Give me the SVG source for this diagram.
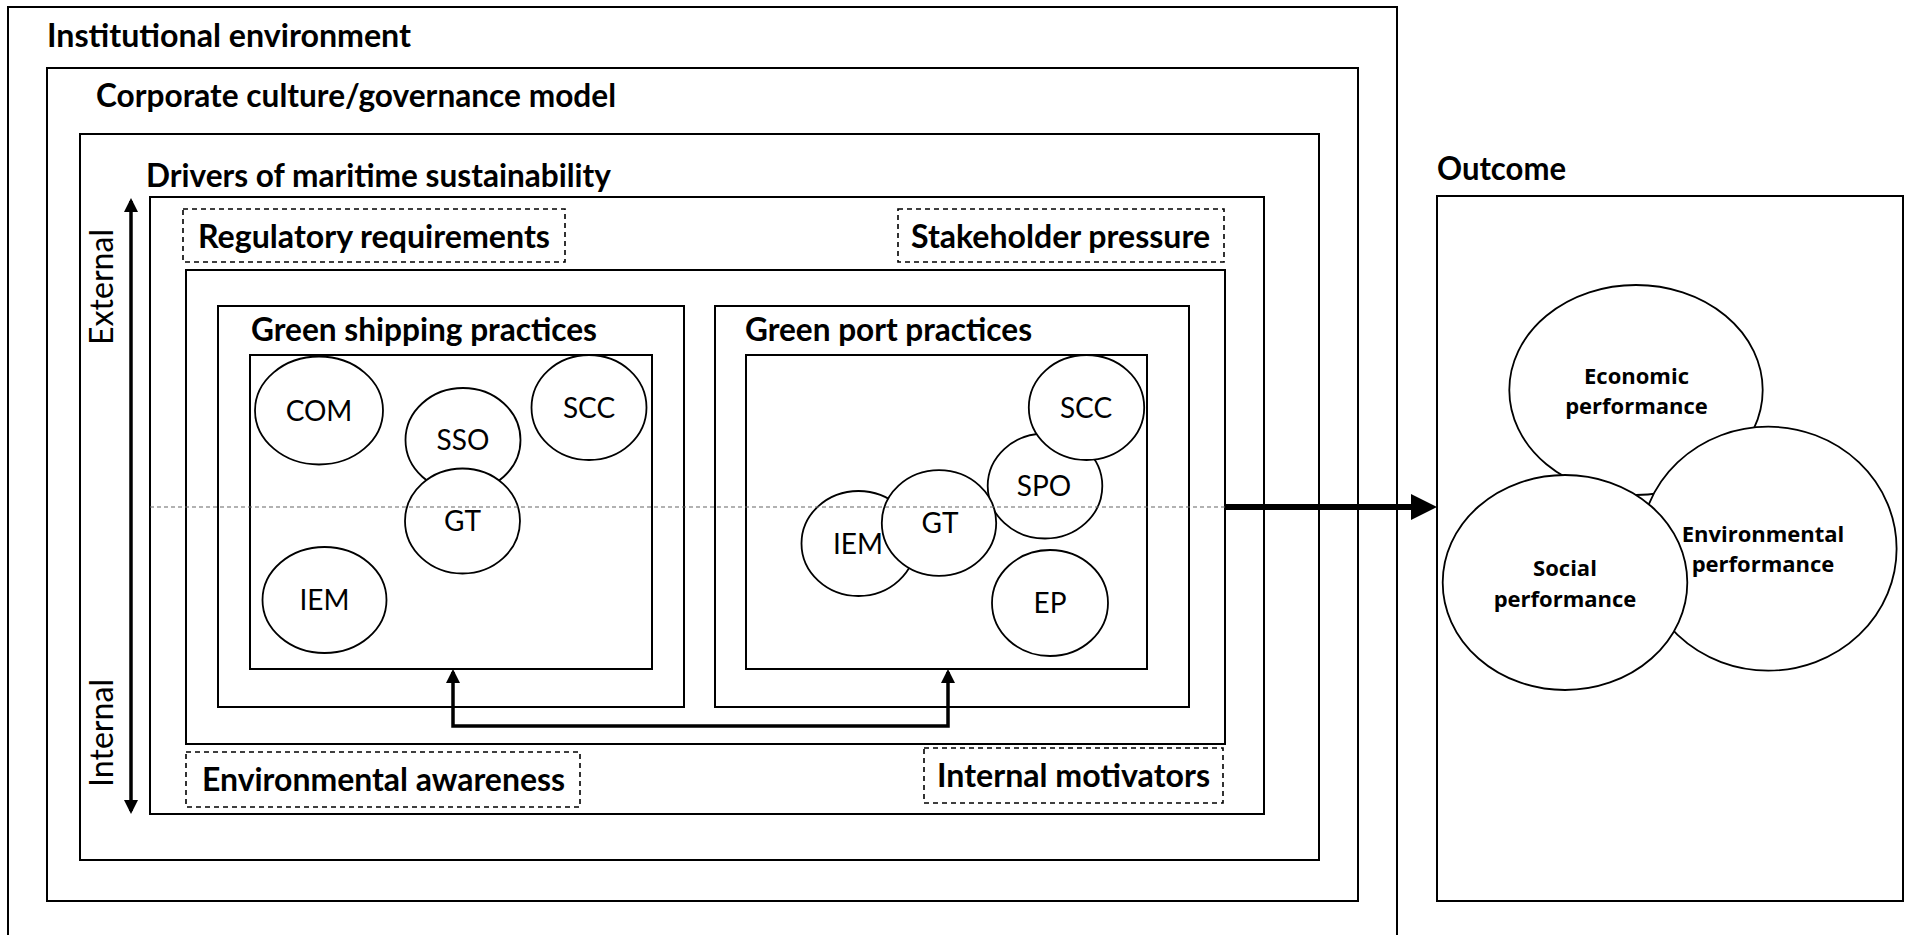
<svg xmlns="http://www.w3.org/2000/svg" width="1905" height="935" viewBox="0 0 1905 935">
<style>
.box{fill:none;stroke:#000;stroke-width:2}
.dbox{fill:none;stroke:#000;stroke-width:1.6;stroke-dasharray:5 4}
.ell{fill:#fff;stroke:#000;stroke-width:1.8}
.title{font-family:Lato,"Liberation Sans",sans-serif;font-weight:bold;font-size:33px;fill:#000}
.lbl{font-family:Lato,"Liberation Sans",sans-serif;font-size:28px;fill:#000;text-anchor:middle}
.side{font-family:Lato,"Liberation Sans",sans-serif;font-size:32px;fill:#000;text-anchor:middle}
.out{font-family:"Open Sans","Liberation Sans",sans-serif;font-weight:bold;font-size:22px;fill:#000;text-anchor:middle}
.conn{fill:none;stroke:#000}
</style>
<defs>
<marker id="ahS" viewBox="0 0 14 14" refX="11" refY="7" markerWidth="14" markerHeight="14" markerUnits="userSpaceOnUse" orient="auto-start-reverse"><path d="M0,0 L14,7 L0,14 z" fill="#000"/></marker>
<marker id="ahB" viewBox="0 0 26 26" refX="14" refY="13" markerWidth="26" markerHeight="26" markerUnits="userSpaceOnUse" orient="auto"><path d="M0,0 L26,13 L0,26 z" fill="#000"/></marker>
</defs>
<rect width="1905" height="935" fill="#fff"/>

<g id="institutional">
<rect class="box" x="8" y="7" width="1389" height="940"/>
<text class="title" x="47" y="47" textLength="364" lengthAdjust="spacingAndGlyphs">Institutional environment</text>
</g>
<g id="corporate">
<rect class="box" x="47" y="68" width="1311" height="833"/>
<text class="title" x="96" y="107" textLength="520" lengthAdjust="spacingAndGlyphs">Corporate culture/governance model</text>
</g>
<g id="drivers">
<rect class="box" x="80" y="134" width="1239" height="726"/>
<text class="title" x="146" y="187" textLength="465" lengthAdjust="spacingAndGlyphs">Drivers of maritime sustainability</text>
</g>
<g id="drivers-inner">
<rect class="box" x="150" y="197" width="1114" height="617"/>
</g>
<g id="regulatory">
<rect class="dbox" x="183" y="209" width="382" height="53"/>
<text class="title" x="198" y="248" textLength="352" lengthAdjust="spacingAndGlyphs">Regulatory requirements</text>
</g>
<g id="stakeholder">
<rect class="dbox" x="898" y="209" width="326" height="53"/>
<text class="title" x="911" y="248" textLength="299" lengthAdjust="spacingAndGlyphs">Stakeholder pressure</text>
</g>
<g id="env-awareness">
<rect class="dbox" x="186" y="752" width="394" height="55"/>
<text class="title" x="202" y="791" textLength="363" lengthAdjust="spacingAndGlyphs">Environmental awareness</text>
</g>
<g id="internal-motivators">
<rect class="dbox" x="924" y="748" width="299" height="55"/>
<text class="title" x="937" y="787" textLength="273" lengthAdjust="spacingAndGlyphs">Internal motivators</text>
</g>
<g id="practices">
<rect class="box" x="186" y="270" width="1039" height="474"/>
</g>
<g id="green-shipping">
<rect class="box" x="218" y="306" width="466" height="401"/>
<text class="title" x="251" y="341" textLength="346" lengthAdjust="spacingAndGlyphs">Green shipping practices</text>
<rect class="box" x="250" y="355" width="402" height="314"/>
</g>
<g id="ship-COM"><ellipse class="ell" cx="319" cy="410.5" rx="64" ry="54"/><text class="lbl" x="319" y="420.5">COM</text></g>
<g id="ship-SCC"><ellipse class="ell" cx="589" cy="407.5" rx="57.5" ry="52.5"/><text class="lbl" x="589" y="417.5">SCC</text></g>
<g id="ship-SSO"><ellipse class="ell" cx="463" cy="440" rx="57.5" ry="52"/><text class="lbl" x="463" y="450">SSO</text></g>
<g id="ship-GT"><ellipse class="ell" cx="462.5" cy="521" rx="57.5" ry="52.5"/><text class="lbl" x="462.5" y="531">GT</text></g>
<g id="ship-IEM"><ellipse class="ell" cx="324.5" cy="600" rx="62" ry="53"/><text class="lbl" x="324.5" y="610">IEM</text></g>

<g id="green-port">
<rect class="box" x="715" y="306" width="474" height="401"/>
<text class="title" x="745" y="341" textLength="287" lengthAdjust="spacingAndGlyphs">Green port practices</text>
<rect class="box" x="746" y="355" width="401" height="314"/>
</g>
<g id="port-IEM"><ellipse class="ell" cx="858.5" cy="543.5" rx="57" ry="52.5"/><text class="lbl" x="858" y="553.5">IEM</text></g>
<g id="port-SPO"><ellipse class="ell" cx="1045" cy="486" rx="57.3" ry="52.5"/><text class="lbl" x="1044" y="496">SPO</text></g>
<g id="port-GT"><ellipse class="ell" cx="939" cy="523" rx="57.2" ry="52.8"/><text class="lbl" x="940" y="533">GT</text></g>
<g id="port-SCC"><ellipse class="ell" cx="1086.5" cy="407.5" rx="57.7" ry="52.5"/><text class="lbl" x="1086" y="417.5">SCC</text></g>
<g id="port-EP"><ellipse class="ell" cx="1050" cy="603" rx="58" ry="53"/><text class="lbl" x="1050" y="613">EP</text></g>

<g id="axis-labels">
<text class="side" transform="rotate(-90 113 287)" x="113" y="287" textLength="116" lengthAdjust="spacingAndGlyphs">External</text>
<text class="side" transform="rotate(-90 113 733)" x="113" y="733" textLength="108" lengthAdjust="spacingAndGlyphs">Internal</text>
</g>

<g id="outcome">
<rect class="box" x="1437" y="196" width="466" height="705"/>
<text class="title" x="1437" y="180" textLength="129" lengthAdjust="spacingAndGlyphs">Outcome</text>
</g>
<g id="economic"><ellipse class="ell" cx="1636" cy="390" rx="126.7" ry="105"/><text class="out" x="1636.5" y="384">Economic</text><text class="out" x="1636.5" y="414">performance</text></g>
<g id="environmental"><ellipse class="ell" cx="1768.3" cy="548.7" rx="128.3" ry="122"/><text class="out" x="1763" y="541.5">Environmental</text><text class="out" x="1763" y="571.5">performance</text></g>
<g id="social"><ellipse class="ell" cx="1565" cy="582.5" rx="122.3" ry="107.5"/><text class="out" x="1565" y="576">Social</text><text class="out" x="1565" y="607">performance</text></g>

<g id="connectors">
<line x1="150" y1="507" x2="1225" y2="507" stroke="#666" stroke-width="1.2" stroke-dasharray="4 3"/>
<path class="conn" d="M131,201 V811" stroke-width="3.5" marker-start="url(#ahS)" marker-end="url(#ahS)"/>
<path class="conn" d="M453,672 V726 H948 V672" stroke-width="3.5" marker-start="url(#ahS)" marker-end="url(#ahS)"/>
<path class="conn" d="M1225,507 H1425" stroke-width="6" marker-end="url(#ahB)"/>
</g>
</svg>
